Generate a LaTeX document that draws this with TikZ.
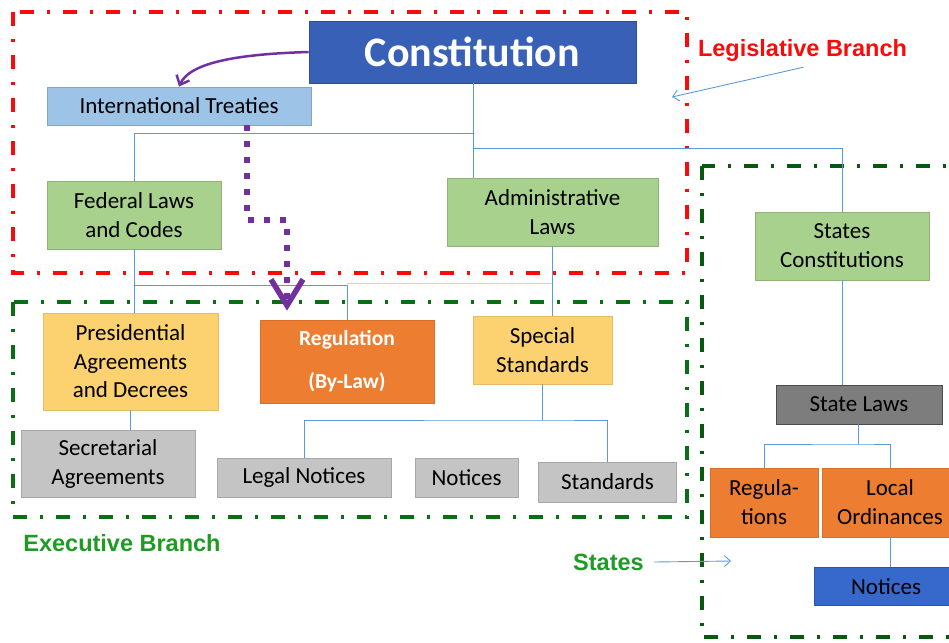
\documentclass[tikz,border=0pt]{standalone}
\usepackage{fontspec}
\setmainfont{Carlito}
\newfontfamily\labelfont{Liberation Sans}
\usetikzlibrary{positioning, calc, arrows.meta}
\definecolor{cConst}{RGB}{55,96,182}
\definecolor{cTreaty}{RGB}{157,195,230}
\definecolor{cLaw}{RGB}{169,209,142}
\definecolor{cDecree}{RGB}{252,210,112}
\definecolor{cReg}{RGB}{237,125,49}
\definecolor{cNote}{RGB}{196,196,196}
\definecolor{cStLaw}{RGB}{125,125,125}
\definecolor{cNotice}{RGB}{55,105,205}
\definecolor{cLink}{RGB}{91,155,213}
\definecolor{cPurple}{RGB}{112,48,160}
\definecolor{cLegis}{RGB}{250,10,10}
\definecolor{cExec}{RGB}{10,110,20}
\definecolor{cExecTxt}{RGB}{30,155,35}

\begin{document}
\begin{tikzpicture}[x=1pt, y=-1pt, font=\fontsize{23}{29}\selectfont]

% ------------------- styles -------------------
\tikzstyle{box} = [rectangle, align=center, inner sep=0pt, line width=0.7pt]
\tikzstyle{lawbox} = [box, fill=cLaw, draw=cLaw!85!black]
\tikzstyle{decreebox} = [box, fill=cDecree, draw=cDecree!90!black]
\tikzstyle{regbox} = [box, fill=cReg, draw=cReg!90!black]
\tikzstyle{notebox} = [box, fill=cNote, draw=cNote!85!black]
\tikzstyle{link} = [draw=cLink, line width=1pt]
\tikzstyle{branchframe} = [line width=3.5pt, dash pattern=on 14pt off 13pt on 3pt off 13pt]
\tikzstyle{tag} = [font=\labelfont\bfseries\fontsize{23.5}{28}\selectfont, inner sep=2pt]
\tikzstyle{pointer} = [->, draw=cLink, line width=0.9pt, >={Straight Barb[length=6pt, width=11pt]}]

\useasboundingbox (0,0) rectangle (949,642);
\clip (0,0) rectangle (949,642);

% ------------------- branch frames -------------------
\draw[branchframe, cLegis] (13,12) rectangle (687,273);
\draw[branchframe, cExec] (13,302) rectangle (687,517);
\draw[branchframe, cExec!80!black] (702,166) rectangle (990,637);

% ------------------- legislative -------------------
\node[box, fill=cConst, draw=cConst!80!black, minimum width=327pt, minimum height=62pt,
  text=white, font=\bfseries\fontsize{42}{48}\selectfont] (const) at (472.5,52) {Constitution};
\node[box, fill=cTreaty, draw=cTreaty!85!black, minimum width=264pt, minimum height=38pt] (intl) at (179,106) {International Treaties};
\node[lawbox, minimum width=174pt, minimum height=68pt] (fed) at (134,215) {Federal Laws\\and Codes};
\node[lawbox, minimum width=211pt, minimum height=68pt] (admin) at (552.5,212) {Administrative\\Laws};

% ------------------- executive -------------------
\node[decreebox, minimum width=175pt, minimum height=97pt, font=\fontsize{23}{28.5}\selectfont] (pres) at (130.5,361.5) {Presidential\\Agreements\\and Decrees};
\node[regbox, minimum width=174pt, minimum height=83pt, text=white, font=\bfseries\fontsize{21.5}{43}\selectfont] (reg) at (347,361.5) {Regulation\\(By-Law)};
\node[decreebox, minimum width=139pt, minimum height=68pt] (spec) at (542.5,350) {Special\\Standards};
\node[notebox, minimum width=174pt, minimum height=67pt] (sec) at (108,463.5) {Secretarial\\Agreements};
\node[notebox, minimum width=174pt, minimum height=39pt] (legal) at (304,477.5) {Legal Notices};
\node[notebox, minimum width=103pt, minimum height=39pt] (notices) at (466.5,477.5) {Notices};
\node[notebox, minimum width=138pt, minimum height=40pt] (stds) at (607.5,482) {Standards};

% ------------------- states -------------------
\node[lawbox, minimum width=174pt, minimum height=68pt] (stconst) at (842,246) {States\\Constitutions};
\node[box, fill=cStLaw, draw=cStLaw!60!black, minimum width=166pt, minimum height=39pt] (stlaws) at (859,404.5) {State Laws};
\node[regbox, minimum width=108pt, minimum height=69pt] (regs) at (764,502.5) {Regula-\\tions};
\node[regbox, minimum width=136pt, minimum height=69pt] (local) at (890,502.5) {Local\\Ordinances};
\node[box, fill=cNotice, draw=cNotice!80!black, minimum width=144pt, minimum height=38pt] (snotices) at (886,586.5) {Notices};

% ------------------- labels -------------------
\node[tag, text=cLegis] (legis) at (802.5,50) {Legislative Branch};
\node[tag, text=cExecTxt] (exec) at (122,543) {Executive Branch};
\node[tag, text=cExecTxt] (states) at (608.5,562) {States};
\coordinate (legtip) at (672,97);
\coordinate (sttip) at (731,561);
\draw[pointer] ([xshift=1pt, yshift=-4pt]legis.south) -- (legtip);
\draw[pointer] ([xshift=8pt]states.east) -- (sttip);

% ------------------- links -------------------
\coordinate (j1) at (473,133);
\coordinate (j2) at (473,148);
\draw[link] (const.south -| j1) -- (admin.north -| j1);
\draw[link] (j1) -| (fed.north);
\draw[link] (j2) -| (stconst.north);

\coordinate (j3) at (134,285);
\draw[link] (fed.south -| j3) -- (pres.north -| j3);
\draw[link] (j3) -| (reg.north);
\draw[draw=cLink!40, line width=1pt] (reg.north |- 0,283) -- (admin.south |- 0,283);
\draw[link] (admin.south -| 552,0) -- (spec.north -| 552,0);

\draw[link] (pres.south) -- (pres.south |- sec.north);
\coordinate (j4) at (542,420);
\draw[link] (spec.south -| j4) -- (j4);
\draw[link] (legal.north) |- (j4) -| (stds.north);

\draw[link] (stconst.south) -- (stconst.south |- stlaws.north);
\coordinate (j5) at (858,444);
\draw[link] (stlaws.south -| j5) -- (j5);
\draw[link] (regs.north) |- (j5) -| (local.north);
\draw[link] (local.south) -- (local.south |- snotices.north);

% ------------------- treaty arrows -------------------
\draw[cPurple, line width=2.5pt, -{Straight Barb[length=8pt, width=14pt]}]
  (const.west) .. controls (240,54) and (190,62) .. (intl.north);
\coordinate (dotturn) at (287,220);
\draw[cPurple, line width=6pt, dash pattern=on 6pt off 10pt,
  -{Straight Barb[length=26pt, width=32pt, line width=5.5pt]}]
  ([xshift=68pt]intl.south) |- (dotturn) -- ([yshift=9pt]reg.north -| dotturn);

\end{tikzpicture}
\end{document}
